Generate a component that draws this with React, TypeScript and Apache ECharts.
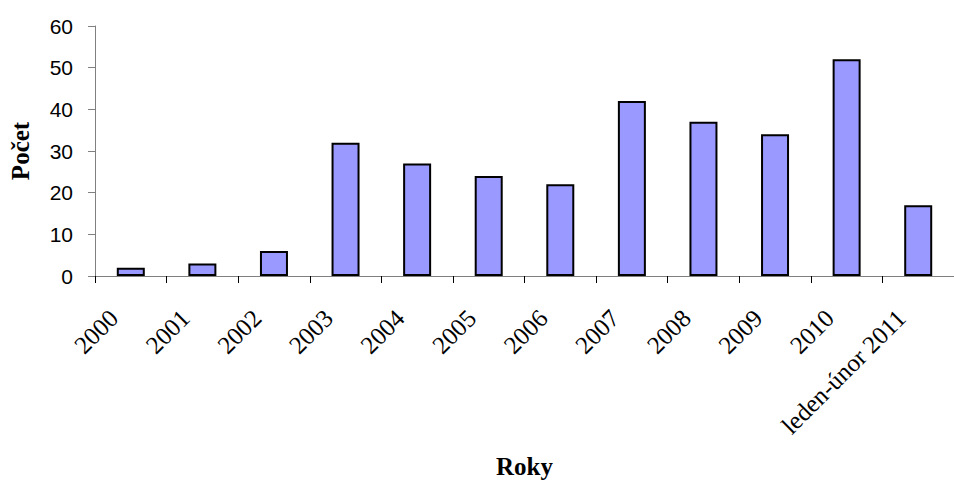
import React, { useEffect, useRef } from "react";
import * as echarts from "echarts";

// Počet případů podle let
const years: string[] = [
  "2000", "2001", "2002", "2003", "2004", "2005",
  "2006", "2007", "2008", "2009", "2010", "leden-únor 2011",
];
const counts: number[] = [2, 3, 6, 32, 27, 24, 22, 42, 37, 34, 52, 17];

const yMin = 0;
const yMax = 60;
const yStep = 10;

export default function App() {
  const ref = useRef<HTMLDivElement>(null);

  useEffect(() => {
    if (!ref.current) return;
    const chart = echarts.init(ref.current, null, { renderer: "svg" });
    chart.setOption({
      animation: false,
      backgroundColor: "#ffffff",
      grid: { left: 95, right: -9, top: 26, bottom: 202, containLabel: false },
      xAxis: {
        type: "category",
        data: years,
        name: "Roky",
        nameLocation: "middle",
        nameGap: 178,
        nameTextStyle: {
          fontFamily: "Liberation Serif",
          fontWeight: "bold",
          fontSize: 25,
          color: "#000",
          verticalAlign: "top",
        },
        boundaryGap: true,
        axisLine: { show: true, lineStyle: { color: "#808080", width: 1 } },
        axisTick: {
          show: true,
          alignWithLabel: false,
          length: 7,
          lineStyle: { color: "#000", width: 1 },
        },
        axisLabel: {
          interval: 0,
          rotate: 45,
          margin: 21,
          padding: [0, 24, 0, 0],
          fontFamily: "Liberation Serif",
          fontSize: 25,
          color: "#000",
        },
        splitLine: { show: false },
      },
      yAxis: {
        type: "value",
        min: yMin,
        max: yMax,
        interval: yStep,
        name: "Počet",
        nameLocation: "middle",
        nameGap: 62,
        nameRotate: 90,
        nameTextStyle: {
          fontFamily: "Liberation Serif",
          fontWeight: "bold",
          fontSize: 25,
          color: "#000",
        },
        axisLine: { show: true, lineStyle: { color: "#808080", width: 1 } },
        axisTick: {
          show: true,
          length: 7,
          lineStyle: { color: "#808080", width: 1 },
        },
        axisLabel: {
          margin: 22,
          fontFamily: "Liberation Sans",
          fontSize: 21,
          color: "#000",
        },
        splitLine: { show: false },
      },
      series: [
        {
          type: "bar",
          data: counts,
          barWidth: 28,
          itemStyle: {
            color: "#9999ff",
            borderColor: "#000000",
            borderWidth: 2,
          },
        },
      ],
    });
    return () => chart.dispose();
  }, []);

  return (
    <div
      ref={ref}
      style={{ position: "absolute", left: 0, top: 0, width: 954, height: 484 }}
    />
  );
}
